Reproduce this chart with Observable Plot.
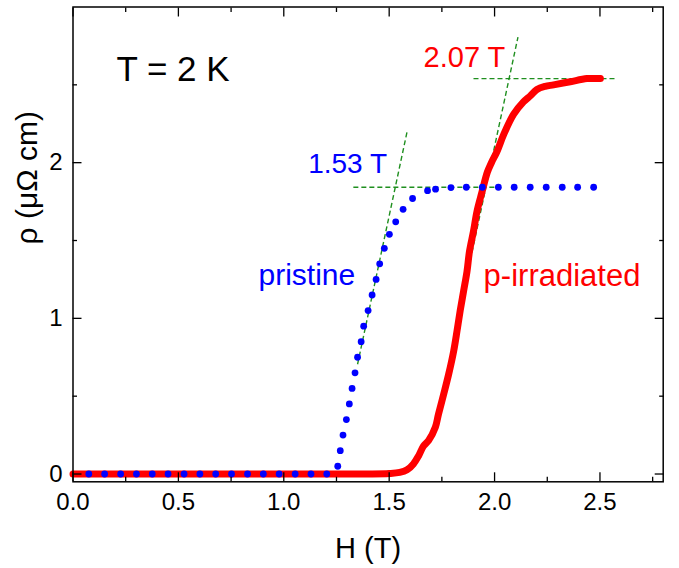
<!DOCTYPE html>
<html>
<head>
<meta charset="utf-8">
<script src="https://cdn.jsdelivr.net/npm/d3@7"></script>
<script src="https://cdn.jsdelivr.net/npm/@observablehq/plot@0.6"></script>
<style>
  html, body { margin: 0; padding: 0; background: white; }
  #chart { width: 679px; height: 568px; }
</style>
</head>
<body>
<div id="chart"></div>
<script>
// ---- data: pristine (blue dots) ----
const pristineH = [0.075, 0.150, 0.226, 0.301, 0.376, 0.451, 0.527, 0.602, 0.677, 0.752, 0.828, 0.903, 0.978, 1.054, 1.129, 1.204,
  1.256, 1.268, 1.281, 1.297, 1.311, 1.324, 1.338, 1.350, 1.367, 1.379, 1.400, 1.419, 1.438, 1.455, 1.477, 1.501, 1.531, 1.566, 1.611, 1.682, 1.720,
  1.793, 1.866, 1.942, 2.018, 2.093, 2.169, 2.245, 2.321, 2.394, 2.470];
const pristineRho = [0, 0, 0, 0, 0, 0, 0, 0, 0, 0, 0, 0, 0, 0, 0, 0,
  0.05, 0.15, 0.25, 0.35, 0.45, 0.55, 0.65, 0.75, 0.85, 0.95, 1.05, 1.15, 1.25, 1.35, 1.45, 1.54, 1.62, 1.70, 1.77, 1.82, 1.83,
  1.84, 1.842, 1.842, 1.842, 1.842, 1.842, 1.842, 1.842, 1.842, 1.842];

// ---- data: p-irradiated (red line) ----
const irrH = [0, 0.5, 1.0, 1.4, 1.50, 1.55, 1.585, 1.615, 1.640, 1.663, 1.687, 1.719, 1.734, 1.758, 1.782, 1.806, 1.822, 1.837, 1.853, 1.869, 1.881,
  1.900, 1.917, 1.940, 1.966, 1.985, 2.011, 2.043, 2.090, 2.137, 2.170, 2.201, 2.240, 2.280, 2.359, 2.438, 2.502];
const irrRho = [0, 0, 0, 0, 0.003, 0.01, 0.027, 0.065, 0.118, 0.18, 0.215, 0.30, 0.385, 0.51, 0.64, 0.79, 0.92, 1.05, 1.175, 1.30, 1.43,
  1.56, 1.69, 1.81, 1.94, 2.00, 2.07, 2.18, 2.31, 2.39, 2.43, 2.47, 2.49, 2.50, 2.52, 2.54, 2.54];

// ---- green dashed construction lines ----
const guideH1 = [1.33, 1.350, 1.900, 1.877];
const guideRho1 = [1.842, 0.705, 2.54, 1.324];
const guideH2 = [2.02, 1.585, 2.580, 2.111];
const guideRho2 = [1.842, 2.199, 2.54, 2.807];

// ---- annotations ----
const annText = ["T = 2 K", "2.07 T", "1.53 T", "pristine", "p-irradiated"];
const annH = [0.206, 2.051, 1.490, 1.339, 1.948];
const annRho = [2.525, 2.615, 1.932, 1.213, 1.207];
const annColor = ["black", "#ff0000", "#0000ff", "#0000ff", "#ff0000"];
const annAnchor = ["start", "end", "end", "end", "start"];
const annSize = [35, 29, 28, 30, 31];

// ---- ticks ----
const xMajor = [0, 0.5, 1.0, 1.5, 2.0, 2.5];
const xMinor = [0.25, 0.75, 1.25, 1.75, 2.25, 2.75];
const yMajor = [0, 1, 2];
const yMinor = [0.5, 1.5, 2.5];
const xLabel = "H (T)";
const yLabel = "ρ (μΩ cm)";

const pristine = pristineH.map((h, i) => ({H: h, rho: pristineRho[i]}));
const irr = irrH.map((h, i) => ({H: h, rho: irrRho[i]}));
const guides = guideH1.map((h, i) => ({x1: h, y1: guideRho1[i], x2: guideH2[i], y2: guideRho2[i]}));

const font = "'Liberation Sans', Arial, sans-serif";

const annMarks = annText.map((t, i) => Plot.text([{H: annH[i], rho: annRho[i], t}], {
  x: "H", y: "rho", text: "t", fill: annColor[i], fontSize: annSize[i],
  textAnchor: annAnchor[i], lineAnchor: "bottom"
}));

const tickMarks = [];
for (const a of ["bottom", "top"]) {
  tickMarks.push(Plot.axisX({anchor: a, ticks: xMajor, tickSize: -9, fill: "none", label: null, strokeWidth: 1.3}));
  tickMarks.push(Plot.axisX({anchor: a, ticks: xMinor, tickSize: -4.5, fill: "none", label: null, strokeWidth: 1.3}));
}
for (const a of ["left", "right"]) {
  tickMarks.push(Plot.axisY({anchor: a, ticks: yMajor, tickSize: -9, fill: "none", label: null, strokeWidth: 1.3}));
  tickMarks.push(Plot.axisY({anchor: a, ticks: yMinor, tickSize: -4.5, fill: "none", label: null, strokeWidth: 1.3}));
}

const chart = Plot.plot({
  width: 679,
  height: 568,
  marginLeft: 72.5,
  marginRight: 16.3,
  marginTop: 6.5,
  marginBottom: 86.7,
  x: {domain: [0, 2.8]},
  y: {domain: [-0.05, 3.0]},
  style: {fontFamily: font, background: "white", color: "black", overflow: "visible"},
  marks: [
    Plot.link(guides, {x1: "x1", y1: "y1", x2: "x2", y2: "y2", stroke: "#1f8f1f", strokeWidth: 1.4, strokeDasharray: "5,3"}),
    Plot.line(irr, {x: "H", y: "rho", stroke: "#ff0000", strokeWidth: 7, strokeLinejoin: "round", strokeLinecap: "round", curve: "catmull-rom"}),
    Plot.dot(pristine, {x: "H", y: "rho", r: 3.4, fill: "#0000ff", stroke: "none"}),
    ...annMarks,
    ...tickMarks,
    Plot.axisX({anchor: "bottom", ticks: xMajor, tickSize: 0, tickPadding: 11, tickFormat: d3.format(".1f"), fontSize: 24, label: null}),
    Plot.axisY({anchor: "left", ticks: yMajor, tickSize: 0, tickPadding: 10.5, tickFormat: d3.format("d"), fontSize: 24, label: null}),
    Plot.text([xLabel], {frameAnchor: "bottom", text: d => d, dy: 76, fontSize: 29, lineAnchor: "bottom"}),
    Plot.text([yLabel], {frameAnchor: "left", text: d => d, dx: -36.5, rotate: -90, fontSize: 30, lineAnchor: "bottom"}),
    Plot.frame({stroke: "black", strokeWidth: 1.5})
  ]
});
document.getElementById("chart").appendChild(chart);
</script>
</body>
</html>
